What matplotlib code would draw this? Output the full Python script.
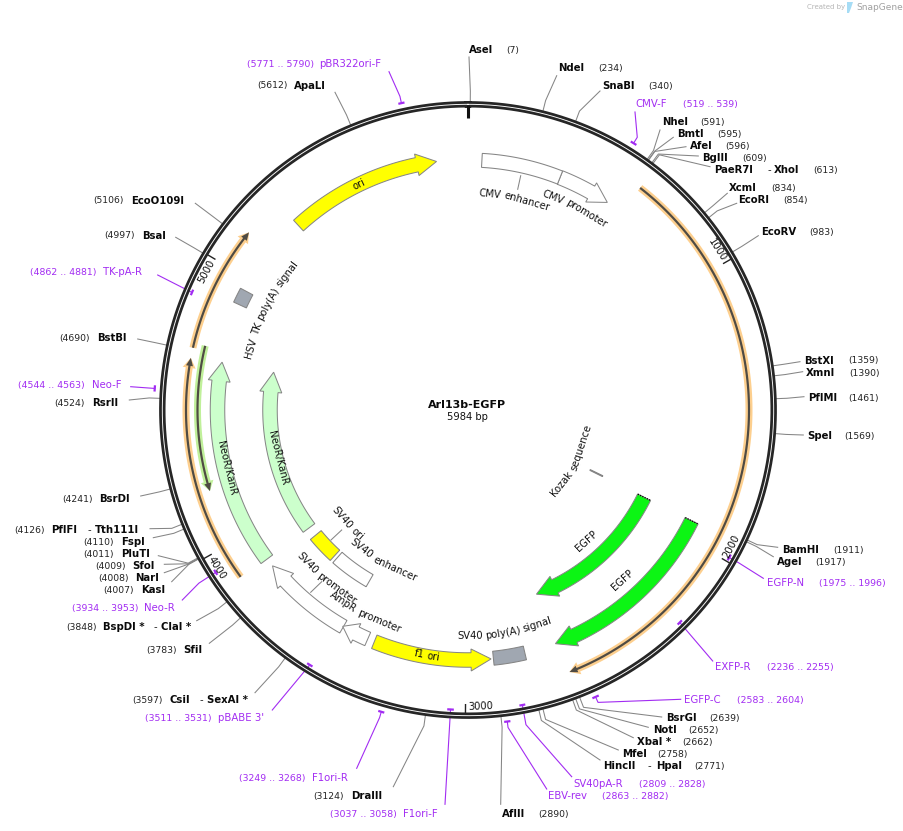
import numpy as np
import matplotlib
matplotlib.use('Agg')
import matplotlib.pyplot as plt
from matplotlib.patches import Polygon
from matplotlib.textpath import TextPath
from matplotlib.font_manager import FontProperties

TOTAL = 5984
TITLE = 'Arl13b-EGFP'

# restriction sites
ENZ_NAMES = ['AseI', 'NdeI', 'SnaBI', 'NheI', 'BmtI', 'AfeI', 'BglII', 'PaeR7I', 'XcmI', 'EcoRI', 'EcoRV',
             'BstXI', 'XmnI', 'PflMI', 'SpeI', 'BamHI', 'AgeI', 'BsrGI', 'NotI', 'XbaI *', 'MfeI', 'HincII',
             'AflII', 'DraIII', 'CsiI', 'SfiI', 'BspDI *', 'KasI', 'NarI', 'SfoI', 'PluTI', 'FspI', 'PflFI',
             'BsrDI', 'RsrII', 'BstBI', 'BsaI', 'EcoO109I', 'ApaLI']
ENZ_BP = [7, 234, 340, 591, 595, 596, 609, 613, 834, 854, 983,
          1359, 1390, 1461, 1569, 1911, 1917, 2639, 2652, 2662, 2758, 2771,
          2890, 3124, 3597, 3783, 3848, 4007, 4008, 4009, 4011, 4110, 4126,
          4241, 4524, 4690, 4997, 5106, 5612]
# second enzyme on the same site
ENZ_SECOND = {'PaeR7I': 'XhoI', 'HincII': 'HpaI', 'CsiI': 'SexAI *', 'BspDI *': 'ClaI *', 'PflFI': 'Tth111I'}

# primers
PRIMER_NAMES = ['CMV-F', 'EGFP-N', 'EXFP-R', 'EGFP-C', 'SV40pA-R', 'EBV-rev', 'F1ori-F', 'F1ori-R',
                "pBABE 3'", 'Neo-R', 'Neo-F', 'TK-pA-R', 'pBR322ori-F']
PRIMER_START = [519, 1975, 2236, 2583, 2809, 2863, 3037, 3249, 3511, 3934, 4544, 4862, 5771]
PRIMER_END = [539, 1996, 2255, 2604, 2828, 2882, 3058, 3268, 3531, 3953, 4563, 4881, 5790]
PRIMER_FWD = [1, 0, 0, 1, 0, 1, 0, 1, 0, 0, 1, 0, 1]

# arrow features, start -> tip
FEAT_NAMES = ['CMV promoter', 'ori', 'NeoR/KanR', 'NeoR/KanR', 'SV40 promoter', 'AmpR promoter', 'f1 ori', 'EGFP', 'EGFP']
FEAT_START = [359, 5276, 3880, 3880, 3489, 3385, 3358, 1934, 1934]
FEAT_END = [563, 5864, 4671, 4671, 3847, 3492, 2904, 2653, 2651]

# box features
BOX_NAMES = ['CMV enhancer', 'HSV TK poly(A) signal', 'SV40 ori', 'SV40 enhancer', 'SV40 poly(A) signal', 'Kozak sequence']
BOX_START = [53, 4899, 3698, 3490, 2773, 1928]
BOX_END = [359, 4956, 3833, 3682, 2895, 1934]

# ORFs
ORF_START = [628, 4700, 3885, 4716]
ORF_END = [2640, 5137, 4665, 4198]

TICKS = [1000, 2000, 3000, 4000, 5000]

# ---- layout, everything in image pixels
fig = plt.figure(figsize=(9.04, 8.31), dpi=100)
ax = fig.add_axes([0, 0, 1, 1])
ax.set_xlim(0, 904)
ax.set_ylim(831, 0)
ax.axis('off')

CX, CY = 468, 410
PX = 0.72  # points per pixel
GRAY = '#858585'
PURPLE = '#a22cf2'

ENZ_NAME_X = [469, 558, 602, 661.7, 676.7, 690, 702.3, 714.3, 729.3, 738.3, 761.3,
              804.3, 806, 808.3, 807.3, 781.7, 776.7, 665.7, 652.7, 637.3, 621.7, 603.3,
              501.7, 350.7, 169.3, 183.3, 103.3, 140.7, 135.3, 132.3, 120.7, 120.7, 51.3,
              99.3, 91.7, 96.7, 141.7, 130.7, 294.3]
ENZ_Y = [50, 68, 86, 122.3, 134, 146, 158, 170, 188.3, 200, 232,
         361, 373.3, 398, 436.3, 550, 562.3, 718.3, 730.3, 742.3, 754.3, 766.3,
         814.3, 796, 700, 650.3, 627.3, 590.3, 578.3, 566.3, 554.3, 542.3, 530.3,
         499.3, 403.3, 338.3, 235.7, 200.7, 85.7]
ENZ_NUM_X = [506, 598, 648, 700, 717.3, 725.3, 742.3, 813.3, 771, 783.3, 809,
             848.3, 849.3, 848.3, 844.3, 833.3, 815.7, 709.3, 688.7, 682.3, 657.3, 694.3,
             538.3, 313.3, 132.3, 146.7, 66.7, 103.3, 98.3, 95.7, 83.3, 83.3, 14.3,
             62.3, 54.3, 59.3, 104.3, 93.3, 257.3]
ENZ_END_X = [469, 556.7, 600, 660, 673.3, 686, 698.3, 710, 727.3, 736.7, 758.3,
             800, 802.7, 804, 803.3, 777.7, 773.3, 661.7, 648.3, 633.3, 618.3, 600,
             500.7, 393.3, 255, 209.3, 196.7, 171.7, 164.3, 164.3, 158.3, 153.3, 150,
             140.7, 129.3, 137.7, 175.7, 195.3, 335]
ENZ_END_Y = [57, 75.7, 91, 130, 137.3, 146.7, 156, 166.7, 193.3, 203.3, 235.7,
             361.7, 371.7, 396.7, 435, 547.3, 556.7, 717, 727.3, 737.7, 750, 760,
             804.3, 786.7, 692.7, 643.3, 620.7, 581.7, 572.7, 564.3, 555.7, 537.7, 528.7,
             496, 400, 339, 237.3, 203.3, 92.3]
# x of the dash and of the second name
SECOND_X = {'PaeR7I': (768, 774), 'HincII': (647.3, 655.7), 'CsiI': (200, 207.3),
            'BspDI *': (153.3, 161.3), 'PflFI': (87.7, 95.3)}

PRIMER_NAME_X = [635, 766.7, 715.3, 684.3, 573.3, 548.3, 403.3, 312.3, 218.3, 144.3, 91.7, 103.3, 319.3]
PRIMER_NUM_X = [683, 818.7, 766.7, 736.7, 638.7, 601.7, 330, 239.3, 145.3, 71.7, 18.3, 30.3, 246.7]
PRIMER_Y = [104, 583.3, 667.3, 700, 784.3, 796, 814.3, 778.3, 718.3, 608.3, 385.3, 272.3, 64]
PRIMER_END_X = [635, 763.3, 712.7, 680.7, 571.7, 546.7, 445, 356.7, 272.3, 182.3, 130.7, 157.7, 389]
PRIMER_END_Y = [112, 578.3, 661, 699.3, 776.7, 789, 804.3, 768.3, 710, 600, 386.7, 275, 71.7]
# radius of the bend in the leader, 0 = straight
PRIMER_ELBOW = [321, 311, 0, 320, 320, 320, 0, 320, 0, 320, 321, 0, 321]

FEAT_R = [250, 250.5, 250.5, 198, 250, 250, 250, 196.5, 249.5]
FEAT_FILL = ['white', '#ffff00', '#ccffcc', '#ccffcc', 'white', 'white', '#ffff00', '#0cf514', '#0cf514']
FEAT_HEAD = [19, 20, 19, 20, 20, 15, 20, 20, 20]
BOX_R = [250, 251, 197, 197, 249.5, 143]
BOX_FILL = ['white', '#a0a7b1', '#ffff00', 'white', '#a0a7b1', '#808080']
ORF_R = [281, 282, 282, 270.5]
ORF_HALO = ['#fdcf8e', '#fdcf8e', '#fdcf8e', '#c0f09a']

# curved labels: text, centre angle in degrees, radius
CURVED = [('CMV enhancer', 12.5, 217), ('CMV promoter', 27.9, 229), ('ori', 334.3, 250.8),
          ('HSV TK poly(A) signal', 297, 226), ('NeoR/KanR', 256.5, 248.8), ('NeoR/KanR', 255.8, 196),
          ('SV40 ori', 226.7, 166), ('SV40 enhancer', 209.3, 175), ('SV40 promoter', 220, 222),
          ('AmpR promoter', 207, 229), ('f1 ori', 189.5, 249), ('SV40 poly(A) signal', 170.6, 226),
          ('EGFP', 137.8, 176.6), ('EGFP', 137.8, 229.4), ('Kozak sequence', 116, 119)]
# short connectors between a feature and its label (pixels)
CONN_X = [(520.7, 517.7), (331, 341.7), (310.7, 321.7)]
CONN_Y = [(175.7, 189.3), (540, 530), (592.3, 581.7)]


def bp2xy(bp, r):
    a = np.asarray(bp, dtype=float) / TOTAL * 2 * np.pi
    return CX + r * np.sin(a), CY - r * np.cos(a)


def arc_line(b0, b1, r, **kw):
    x, y = bp2xy(np.linspace(b0, b1, 200), r)
    ax.plot(x, y, solid_capstyle='butt', **kw)


def arc_arrow(start, end, r, w, head, hw, fc, ec, lw=1.0, z=3):
    base = end - np.sign(end - start) * head / r / (2 * np.pi) * TOTAL
    b = np.linspace(start, base, 120)
    xo, yo = bp2xy(b, r + w / 2)
    xi, yi = bp2xy(b[::-1], r - w / 2)
    hx1, hy1 = bp2xy(base, r + hw / 2)
    hx2, hy2 = bp2xy(base, r - hw / 2)
    tx, ty = bp2xy(end, r)
    xs = np.r_[xo, hx1, tx, hx2, xi]
    ys = np.r_[yo, hy1, ty, hy2, yi]
    ax.add_patch(Polygon(np.c_[xs, ys], closed=True, fc=fc, ec=ec, lw=lw * PX, zorder=z, joinstyle='miter'))


def arc_box(b0, b1, r, w, fc, ec=GRAY):
    b = np.linspace(b0, b1, 60)
    xo, yo = bp2xy(b, r + w / 2)
    xi, yi = bp2xy(b[::-1], r - w / 2)
    ax.add_patch(Polygon(np.c_[np.r_[xo, xi], np.r_[yo, yi]], closed=True, fc=fc, ec=ec, lw=0.75, zorder=3))


def curved_text(s, deg, r, size=7.2):
    # one rotated text per word, so the label follows the circle
    prop = FontProperties(family='DejaVu Sans', size=size)
    px = size / PX
    words = s.split(' ')
    ws = [TextPath((0, 0), w, size=px, prop=prop).get_extents().width + 0.08 * px for w in words]
    gap = 0.32 * px
    pos = -(sum(ws) + gap * (len(ws) - 1)) / 2
    top = np.cos(np.radians(deg)) > 0
    for w, wd in zip(words, ws):
        d = np.degrees((pos + wd / 2) / r)
        a = deg + d if top else deg - d
        rot = -a if top else 180 - a
        x = CX + r * np.sin(np.radians(a))
        y = CY - r * np.cos(np.radians(a))
        ax.text(x, y, w, fontsize=size, rotation=rot, rotation_mode='anchor', ha='center', va='center',
                color='#111111', zorder=6)
        pos += wd + gap


# sites
for i, name in enumerate(ENZ_NAMES):
    x0, y0 = bp2xy(ENZ_BP[i], 307)
    x1, y1 = bp2xy(ENZ_BP[i], 319)
    ax.plot([x0, x1, ENZ_END_X[i]], [y0, y1, ENZ_END_Y[i]], color=GRAY, lw=0.75, zorder=1)
    ax.text(ENZ_NAME_X[i], ENZ_Y[i], name, fontsize=7.3, fontweight='bold', va='center', color='#0a0a0a')
    ax.text(ENZ_NUM_X[i], ENZ_Y[i], '(%d)' % ENZ_BP[i], fontsize=6.7, va='center', color='#222222')
    if name in ENZ_SECOND:
        ax.text(SECOND_X[name][0], ENZ_Y[i], '-', fontsize=7.3, va='center', color='#222222')
        ax.text(SECOND_X[name][1], ENZ_Y[i], ENZ_SECOND[name], fontsize=7.3, fontweight='bold', va='center', color='#0a0a0a')

# primers
for i, name in enumerate(PRIMER_NAMES):
    r = 314 if PRIMER_FWD[i] else 300
    mid = (PRIMER_START[i] + PRIMER_END[i]) / 2
    x0, y0 = bp2xy(mid, r)
    lx, ly = [x0], [y0]
    if PRIMER_ELBOW[i]:
        x1, y1 = bp2xy(mid, PRIMER_ELBOW[i])
        lx.append(x1)
        ly.append(y1)
    ax.plot(lx + [PRIMER_END_X[i]], ly + [PRIMER_END_Y[i]], color=PURPLE, lw=0.8, zorder=1)
    arc_line(PRIMER_START[i], PRIMER_END[i], r, color=PURPLE, lw=1.6, zorder=4)
    ax.text(PRIMER_NAME_X[i], PRIMER_Y[i], name, fontsize=7.3, va='center', color=PURPLE)
    ax.text(PRIMER_NUM_X[i], PRIMER_Y[i], '(%d .. %d)' % (PRIMER_START[i], PRIMER_END[i]), fontsize=6.75,
            va='center', color=PURPLE)

# backbone
th = np.linspace(0, TOTAL, 800)
bx, by = bp2xy(th, 305.7)
ax.plot(bx, by, color='#262626', lw=6.4 * PX, zorder=2)
ax.plot(bx, by, color='white', lw=0.9 * PX, zorder=2.1)

# ticks and their numbers
x0, y0 = bp2xy(0, 305)
x1, y1 = bp2xy(0, 292)
ax.plot([x0, x1], [y0, y1], color='#111111', lw=2.2, solid_capstyle='butt', zorder=4)
for t in TICKS:
    x0, y0 = bp2xy(t, 303)
    x1, y1 = bp2xy(t, 294)
    ax.plot([x0, x1], [y0, y1], color='#222222', lw=1.0, solid_capstyle='butt', zorder=4)
    a = t / TOTAL * 360 - 2.9
    top = np.cos(np.radians(a)) > 0
    ax.text(*bp2xy(a / 360 * TOTAL, 296.5), str(t), fontsize=7.2, color='#111111', rotation=(-a if top else 180 - a),
            rotation_mode='anchor', ha='center', va='center', zorder=5)

# ORFs
for i in range(len(ORF_START)):
    arc_arrow(ORF_START[i], ORF_END[i], ORF_R[i], 7, 10, 13, ORF_HALO[i], 'none', z=2.5)
    arc_arrow(ORF_START[i], ORF_END[i], ORF_R[i], 2.2, 8, 7, '#4f4b44', 'none', z=2.6)

# features
for i in range(len(FEAT_NAMES)):
    arc_arrow(FEAT_START[i], FEAT_END[i], FEAT_R[i], 14.5, FEAT_HEAD[i], 22, FEAT_FILL[i], GRAY)
for i in range(len(BOX_NAMES)):
    arc_box(BOX_START[i], BOX_END[i], BOX_R[i], 14, BOX_FILL[i])

# dotted start of the EGFP arrows
for i in (7, 8):
    x0, y0 = bp2xy(FEAT_START[i], FEAT_R[i] - 7)
    x1, y1 = bp2xy(FEAT_START[i], FEAT_R[i] + 7)
    ax.plot([x0, x1], [y0, y1], color='black', lw=0.9, ls=(0, (1, 1)), zorder=5)

for cx, cy in zip(CONN_X, CONN_Y):
    ax.plot(cx, cy, color=GRAY, lw=0.75, zorder=2)

for s, deg, r in CURVED:
    curved_text(s, deg, r)

# centre
ax.text(467, 405, TITLE, fontsize=8, fontweight='bold', ha='center', va='center', color='#0a0a0a')
ax.text(467, 417, '5984 bp', fontsize=7.2, ha='center', va='center', color='#111111')

# watermark
ax.text(807, 7.5, 'Created by', fontsize=5, va='center', color='#b5b5b5')
ax.add_patch(Polygon([(847, 2), (853, 2), (851, 8), (849, 13), (847, 13)], closed=True, fc='#a6dcf5', ec='none'))
ax.text(856, 7.5, 'SnapGene', fontsize=6.5, va='center', color='#a0a0a0')

fig.savefig('out.png', dpi=100)
